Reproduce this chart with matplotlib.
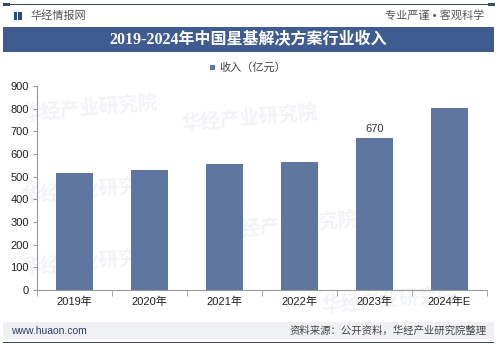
import matplotlib.pyplot as plt
from matplotlib.patches import Rectangle

plt.rcParams['font.family'] = ['Liberation Sans', 'Noto Sans CJK SC', 'DejaVu Sans']

years = ["2019年", "2020年", "2021年", "2022年", "2023年", "2024年E"]
revenue = [517, 528, 554, 566, 670, 804]
labelled = {4: "670"}
series_name = "收入（亿元）"
title = "2019-2024年中国星基解决方案行业收入"

W, H = 499, 346
fig = plt.figure(figsize=(W / 100, H / 100), dpi=100)
fig.patch.set_facecolor("white")


def px(x, y):
    return x / W, 1 - y / H


# header rule and brand line
fig.add_artist(Rectangle(px(3, 5), 490 / W, 1.4 / H, transform=fig.transFigure,
                         color="#3d4b6b", lw=0))
for x0 in (3, 488):
    fig.add_artist(Rectangle(px(x0, 6), 7 / W, 3 / H, transform=fig.transFigure,
                             color="#3d4b6b", lw=0))
fig.add_artist(Rectangle(px(14, 19.5), 3 / W, 8 / H, transform=fig.transFigure,
                         color="#2e4577", lw=0))
fig.add_artist(Rectangle(px(18, 19.5), 3.5 / W, 8 / H, transform=fig.transFigure,
                         color="#2e4577", lw=0))
fig.text(*px(31, 15.5), "华经情报网", fontsize=8, color="#555555", va="center")
fig.text(*px(484, 15.5), "专业严谨 • 客观科学", fontsize=8, color="#555555",
         va="center", ha="right")

# title band
fig.add_artist(Rectangle(px(3, 52), 491 / W, 25 / H, transform=fig.transFigure,
                         color="#3f5b8f", lw=0))
fig.text(*px(248, 40), title, fontsize=11.5, color="white", fontweight="bold",
         ha="center", va="center",
         family=['Liberation Serif', 'Noto Sans CJK SC'])

# faint watermarks behind the plot
for (wx, wy) in [(90, 108), (250, 118), (90, 190), (290, 225), (90, 262), (390, 300)]:
    fig.text(*px(wx, wy), "华经产业研究院", fontsize=14, color="#f1f3f6",
             fontweight="bold", ha="center", va="center", rotation=5, zorder=-1)

ax = fig.add_axes([37 / W, 1 - 290 / H, 450 / W, 204 / H])
ax.set_facecolor("none")
color = "#5f77a0"
bars = ax.bar(range(len(years)), revenue, width=0.49, color=color, zorder=3)
for i, txt in labelled.items():
    ax.text(i, revenue[i] + 18, txt, ha="center", va="bottom", fontsize=8, color="#333333")

ax.set_xlim(-0.5, len(years) - 0.5)
ax.set_ylim(0, 900)
ax.set_yticks(range(0, 901, 100))
ax.set_xticks(range(len(years)))
ax.set_xticklabels(years)
ax.set_xticks([i - 0.5 for i in range(len(years) + 1)], minor=True)
ax.tick_params(axis="x", which="major", length=0, pad=5, labelsize=8, labelcolor="#222222")
ax.tick_params(axis="x", which="minor", length=4, color="#999999", direction="out")
ax.tick_params(axis="y", length=3, color="#999999", labelsize=8, labelcolor="#222222", pad=3)
for s in ("top", "right"):
    ax.spines[s].set_visible(False)
for s in ("left", "bottom"):
    ax.spines[s].set_color("#999999")
    ax.spines[s].set_linewidth(0.8)

# legend
fig.add_artist(Rectangle(px(210, 69.5), 5 / W, 5 / H, transform=fig.transFigure,
                         color=color, lw=0))
fig.text(*px(219, 67), series_name, fontsize=8, color="#444444", va="center")

# footer
fig.add_artist(Rectangle(px(3, 339), 491 / W, 17 / H, transform=fig.transFigure,
                         color="#eef0f4", lw=0))
fig.text(*px(11, 330.5), "www.huaon.com", fontsize=7.5, color="#2c3f6b", va="center")
fig.text(*px(487, 330.5), "资料来源：公开资料，华经产业研究院整理", fontsize=7.5,
         color="#444444", va="center", ha="right")
fig.add_artist(Rectangle(px(3, 343), 491 / W, 1.4 / H, transform=fig.transFigure,
                         color="#3d4b6b", lw=0))

fig.savefig("out.png", dpi=100)
